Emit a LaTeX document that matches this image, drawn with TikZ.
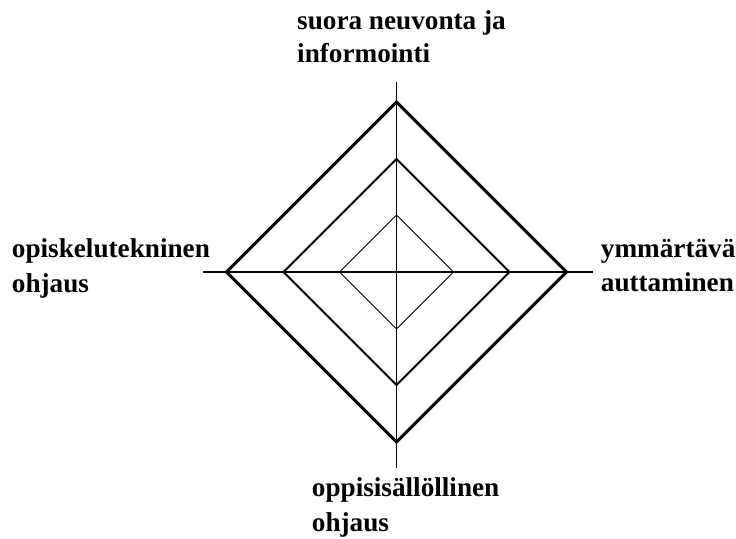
\documentclass[tikz,border=0pt]{standalone}
\usepackage{fontspec}
\setmainfont{Liberation Serif}
\usetikzlibrary{calc}
\begin{document}
\begin{tikzpicture}[x=1pt,y=1pt,
  axisline/.style={line width=1.1pt},
  ringA/.style={line width=3pt,line join=miter},
  ringB/.style={line width=2pt,line join=miter},
  ringC/.style={line width=1pt,line join=miter},
  lbl/.style={anchor=base west,inner sep=0pt,font=\fontsize{27.2}{32}\selectfont\bfseries}]
\useasboundingbox (0,0) rectangle (736,538);
\coordinate (c) at (396.5,266);
\coordinate (axT) at (396.5,456);
\coordinate (axB) at (396.5,70);
\coordinate (axL) at (203,266);
\coordinate (axR) at (593,266);
\draw[axisline] (axT) -- (axB);
\draw[axisline] (axL) -- (axR);
\draw[ringA] ($(c)+(0,170)$) -- ($(c)+(170,0)$) -- ($(c)+(0,-170)$) -- ($(c)+(-170,0)$) -- cycle;
\draw[ringB] ($(c)+(0,113)$) -- ($(c)+(113,0)$) -- ($(c)+(0,-113)$) -- ($(c)+(-113,0)$) -- cycle;
\draw[ringC] ($(c)+(0,57)$) -- ($(c)+(57,0)$) -- ($(c)+(0,-57)$) -- ($(c)+(-57,0)$) -- cycle;
\node[lbl] (t1) at (297,508) {suora neuvonta ja};
\node[lbl] (t2) at (297,475) {informointi};
\node[lbl] (l1) at (11.7,280) {opiskelutekninen};
\node[lbl] (l2) at (11.7,245) {ohjaus};
\node[lbl] (r1) at (600.7,280) {ymmärtävä};
\node[lbl] (r2) at (600.7,246.3) {auttaminen};
\node[lbl] (b1) at (311.7,41.3) {oppisisällöllinen};
\node[lbl] (b2) at (311.7,6.3) {ohjaus};
\end{tikzpicture}
\end{document}
